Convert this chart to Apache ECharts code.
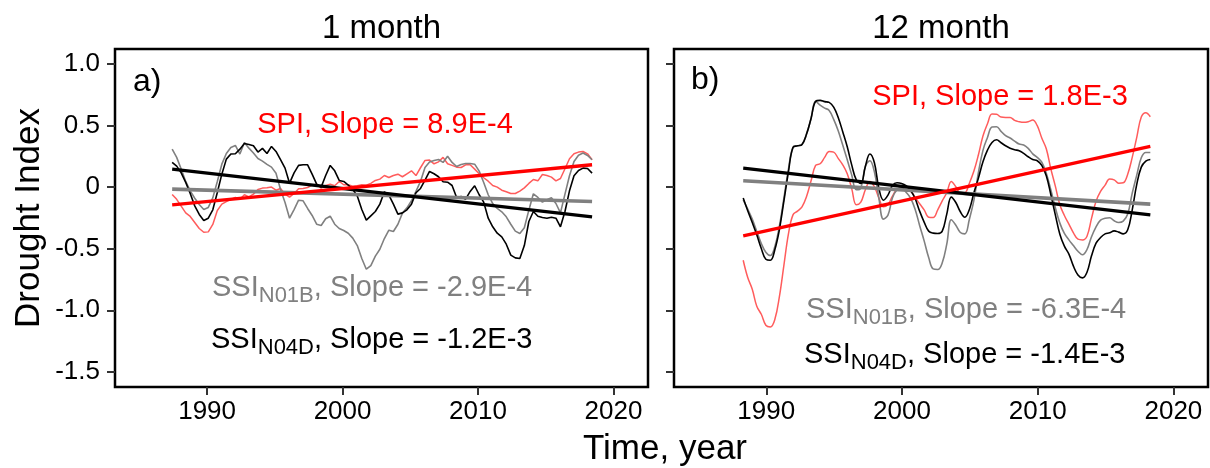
<!DOCTYPE html>
<html><head><meta charset="utf-8">
<script src="https://cdn.jsdelivr.net/npm/echarts@6/dist/echarts.min.js"></script>
<style>html,body{margin:0;padding:0;background:#fff}#c{width:1210px;height:468px}</style>
</head><body><div id="c"></div>
<script>
// ---------- data ----------
const panelTitles = ['1 month', '12 month'];
const panelLetters = ['a)', 'b)'];
const xTicks = [1990, 2000, 2010, 2020];
const yTicks = [-1.5, -1.0, -0.5, 0, 0.5, 1.0];
const yTickLabels = ['-1.5', '-1.0', '-0.5', '0', '0.5', '1.0'];

// sampling of the time axis (decimal years), one sample every 4 months
const start1 = 1987.42;
const start12 = 1988.30;
const stepYears = 1 / 3;

// 1-month panel
const spi1 = [-0.06,-0.10,-0.155,-0.210,-0.239,-0.288,-0.337,-0.367,-0.364,-0.304,
 -0.191,-0.139,-0.118,-0.101,-0.085,-0.099,-0.063,-0.080,-0.058,-0.020,
 -0.009,-0.007,-0.001,-0.026,-0.012,-0.058,-0.082,-0.053,-0.015,-0.012,
 -0.004,0.015,0.023,-0.009,0.012,0.023,0.010,0.045,0.018,0.018,
 0.007,0.010,0.018,0.015,0.029,0.053,0.064,0.093,0.077,0.093,
 0.104,0.083,0.107,0.131,0.093,0.156,0.215,0.218,0.188,0.204,
 0.240,0.188,0.175,0.161,0.158,0.180,0.180,0.145,0.107,0.075,
 0.047,0.012,-0.001,-0.026,-0.039,-0.053,-0.053,-0.034,-0.007,0.029,
 0.061,0.050,0.101,0.093,0.080,0.050,0.069,0.148,0.229,0.269,
 0.283,0.288,0.269,0.221];
const ssiN01B1 = [0.307,0.240,0.145,0.045,-0.031,-0.091,-0.142,-0.183,-0.166,-0.088,
 0.045,0.185,0.272,0.321,0.337,0.267,0.361,0.315,0.275,0.231,
 0.210,0.183,0.161,0.112,-0.020,-0.126,-0.253,-0.183,-0.107,-0.112,
 -0.174,-0.231,-0.302,-0.312,-0.258,-0.237,-0.302,-0.337,-0.353,-0.375,
 -0.415,-0.475,-0.580,-0.667,-0.637,-0.561,-0.505,-0.418,-0.350,-0.361,
 -0.302,-0.212,-0.169,-0.112,-0.036,0.045,0.158,0.202,0.215,0.223,
 0.199,0.250,0.199,0.166,0.183,0.191,0.191,0.185,0.129,0.037,
 -0.063,-0.134,-0.174,-0.201,-0.242,-0.302,-0.358,-0.377,-0.331,-0.188,
 -0.055,-0.085,-0.123,-0.104,-0.088,-0.134,-0.210,-0.058,0.091,0.207,
 0.258,0.275,0.256,0.221];
const ssiN04D1 = [0.199,0.169,0.115,0.037,-0.053,-0.153,-0.223,-0.272,-0.253,-0.185,
 -0.045,0.104,0.226,0.267,0.269,0.307,0.353,0.345,0.334,0.283,
 0.313,0.272,0.329,0.288,0.221,0.153,0.031,0.115,0.175,0.180,
 0.180,0.104,0.023,-0.001,0.093,0.175,0.131,0.053,0.045,0.015,
 -0.018,-0.074,-0.183,-0.269,-0.234,-0.199,-0.139,-0.039,-0.066,-0.139,
 -0.220,-0.210,-0.185,-0.139,-0.047,-0.012,0.056,0.126,0.107,0.083,
 0.042,0.039,0.012,-0.085,-0.077,-0.099,-0.036,0.010,-0.063,-0.123,
 -0.253,-0.323,-0.375,-0.404,-0.464,-0.553,-0.575,-0.580,-0.475,-0.280,
 -0.199,-0.237,-0.248,-0.253,-0.245,-0.253,-0.323,-0.199,-0.031,0.091,
 0.134,0.153,0.150,0.112];

// 12-month panel
const spi12 = [-0.594,-0.734,-0.829,-0.967,-1.032,-1.121,-1.135,-1.073,-0.889,-0.634,
 -0.380,-0.226,-0.196,-0.161,-0.077,0.050,0.175,0.188,0.240,0.288,
 0.283,0.232,0.180,0.107,-0.015,-0.144,-0.123,-0.023,0.045,0.002,
 -0.090,-0.161,-0.142,-0.074,-0.020,-0.012,-0.031,-0.036,-0.085,-0.136,
 -0.185,-0.245,-0.247,-0.185,-0.112,-0.047,0.045,0.002,-0.050,-0.047,
 0.031,0.129,0.261,0.413,0.513,0.591,0.589,0.567,0.564,0.564,
 0.540,0.529,0.524,0.529,0.543,0.497,0.397,0.310,0.148,0.007,
 -0.144,-0.231,-0.301,-0.372,-0.423,-0.429,-0.399,-0.255,-0.115,-0.036,
 0.015,0.064,0.058,0.031,0.034,0.104,0.240,0.402,0.567,0.602,
 0.570];
const ssiN01B12 = [-0.104,-0.180,-0.261,-0.361,-0.458,-0.529,-0.556,-0.483,-0.318,-0.090,
 0.145,0.321,0.334,0.345,0.429,0.556,0.694,0.664,0.640,0.621,
 0.548,0.456,0.340,0.221,0.096,-0.023,-0.009,0.167,0.213,0.123,
 -0.093,-0.261,-0.228,-0.088,-0.023,-0.007,-0.042,-0.090,-0.180,-0.312,
 -0.437,-0.572,-0.664,-0.669,-0.615,-0.464,-0.266,-0.310,-0.369,-0.380,
 -0.261,-0.107,0.118,0.297,0.402,0.486,0.489,0.451,0.416,0.397,
 0.372,0.348,0.340,0.313,0.269,0.240,0.202,0.112,-0.023,-0.169,
 -0.293,-0.377,-0.429,-0.475,-0.521,-0.550,-0.507,-0.404,-0.323,-0.269,
 -0.253,-0.250,-0.274,-0.288,-0.277,-0.220,-0.050,0.096,0.237,0.280,
 0.280];
const ssiN04D12 = [-0.090,-0.193,-0.288,-0.388,-0.499,-0.586,-0.594,-0.507,-0.345,-0.112,
 0.123,0.321,0.334,0.345,0.429,0.556,0.694,0.702,0.692,0.686,
 0.648,0.564,0.448,0.326,0.177,0.058,0.029,0.167,0.267,0.196,
 -0.012,-0.107,-0.066,0.012,0.034,0.029,0.010,-0.028,-0.093,-0.196,
 -0.285,-0.358,-0.374,-0.377,-0.358,-0.220,-0.082,-0.126,-0.201,-0.245,
 -0.182,-0.047,0.072,0.205,0.299,0.361,0.383,0.359,0.334,0.315,
 0.302,0.294,0.272,0.245,0.223,0.213,0.175,0.091,-0.061,-0.226,
 -0.383,-0.480,-0.545,-0.642,-0.713,-0.737,-0.691,-0.558,-0.456,-0.410,
 -0.380,-0.372,-0.356,-0.366,-0.380,-0.347,-0.185,0.021,0.161,0.210,
 0.223];

// linear trend lines: value at first and last sample
const trendSPI1 = [-0.145, 0.180];
const trendN01B1 = [-0.017, -0.118];
const trendN04D1 = [0.145, -0.242];
const trendSPI12 = [-0.396, 0.329];
const trendN01B12 = [0.050, -0.139];
const trendN04D12 = [0.153, -0.226];

const slopeLabels1 = ['8.9E-4', '-2.9E-4', '-1.2E-3'];
const slopeLabels12 = ['1.8E-3', '-6.3E-4', '-1.4E-3'];

// ---------- chart ----------
const FONT = '"Liberation Sans", Arial, Helvetica, sans-serif';
const chart = echarts.init(document.getElementById('c'), null, {renderer: 'canvas'});

function toPairs(vals, start) { return vals.map((v, i) => [start + i * stepYears, v]); }
function trendPairs(tr, vals, start) { return [[start, tr[0]], [start + (vals.length - 1) * stepYears, tr[1]]]; }

function dataSeries(vals, start, idx, color, width, smooth) {
  return {type: 'line', xAxisIndex: idx, yAxisIndex: idx, data: toPairs(vals, start),
    showSymbol: false, smooth: smooth, silent: true, animation: false,
    lineStyle: {color: color, width: width}, z: 2};
}
function trendSeries(tr, vals, start, idx, color, width) {
  return {type: 'line', xAxisIndex: idx, yAxisIndex: idx, data: trendPairs(tr, vals, start),
    showSymbol: false, silent: true, animation: false,
    lineStyle: {color: color, width: width}, z: 3};
}

const SPI_DATA = '#ff5c5c', GRAY = '#808080', BLACK = '#000000', RED = '#ff0000';
const TICK_FONT = 26;

function xAxisCfg(idx) {
  return {type: 'value', gridIndex: idx, min: 1983.2, max: 2022.55,
    axisLine: {show: false, onZero: false}, splitLine: {show: false},
    axisTick: {show: true, length: 8, customValues: xTicks, lineStyle: {color: '#333', width: 2}},
    axisLabel: {show: true, customValues: xTicks, fontSize: TICK_FONT, color: '#000', fontFamily: FONT, margin: 12,
      formatter: function (v) { return String(Math.round(v)); }}};
}
function yAxisCfg(idx, showLabels) {
  return {type: 'value', gridIndex: idx, min: -1.622, max: 1.119,
    axisLine: {show: false, onZero: false}, splitLine: {show: false},
    axisTick: {show: true, length: 8, customValues: yTicks, lineStyle: {color: '#333', width: 2}},
    axisLabel: {show: showLabels, customValues: yTicks, fontSize: TICK_FONT, color: '#000', fontFamily: FONT, margin: 15,
      formatter: function (v) {
        for (let i = 0; i < yTicks.length; i++) if (Math.abs(yTicks[i] - v) < 1e-6) return yTickLabels[i];
        return '';
      }}};
}

// text helpers
const measureCtx = document.createElement('canvas').getContext('2d');
function textWidth(txt, size) {
  measureCtx.font = size + 'px ' + FONT;
  return measureCtx.measureText(txt).width;
}
function plainText(txt, x, y, size, color, align, rotation) {
  const el = {type: 'text', x: x, y: y, silent: true,
    style: {text: txt, fill: color, fontSize: size, fontFamily: FONT,
      align: align, verticalAlign: 'middle', textAlign: align, textVerticalAlign: 'middle'}};
  if (rotation) el.rotation = rotation;
  return el;
}
const MAIN = 29, SUB = 22, SUBDROP = 8;
function ssiText(x, y, sub, slope, color) {
  const a = 'SSI', c = ', Slope = ' + slope;
  const w1 = textWidth(a, MAIN), w2 = textWidth(sub, SUB);
  return [
    plainText(a, x, y, MAIN, color, 'left'),
    plainText(sub, x + w1, y + SUBDROP, SUB, color, 'left'),
    plainText(c, x + w1 + w2, y, MAIN, color, 'left')
  ];
}

const option = {
  backgroundColor: '#ffffff',
  animation: false,
  grid: [
    {left: 115, top: 49, width: 533, height: 338, show: true, borderColor: '#000', borderWidth: 2.5, backgroundColor: 'rgba(0,0,0,0)'},
    {left: 674, top: 49, width: 534, height: 338, show: true, borderColor: '#000', borderWidth: 2.5, backgroundColor: 'rgba(0,0,0,0)'}
  ],
  xAxis: [xAxisCfg(0), xAxisCfg(1)],
  yAxis: [yAxisCfg(0, true), yAxisCfg(1, false)],
  series: [
    dataSeries(spi1, start1, 0, SPI_DATA, 1.5, false),
    dataSeries(ssiN01B1, start1, 0, GRAY, 1.6, false),
    dataSeries(ssiN04D1, start1, 0, BLACK, 1.6, false),
    trendSeries(trendN01B1, ssiN01B1, start1, 0, GRAY, 3.6),
    trendSeries(trendN04D1, ssiN04D1, start1, 0, BLACK, 3.4),
    trendSeries(trendSPI1, spi1, start1, 0, RED, 3.4),
    dataSeries(spi12, start12, 1, SPI_DATA, 1.5, 0.4),
    dataSeries(ssiN01B12, start12, 1, GRAY, 1.6, 0.4),
    dataSeries(ssiN04D12, start12, 1, BLACK, 1.6, 0.4),
    trendSeries(trendN01B12, ssiN01B12, start12, 1, GRAY, 3.6),
    trendSeries(trendN04D12, ssiN04D12, start12, 1, BLACK, 3.4),
    trendSeries(trendSPI12, spi12, start12, 1, RED, 3.4)
  ],
  graphic: [
    plainText(panelTitles[0], 381.5, 29, 33, '#000', 'center'),
    plainText(panelTitles[1], 941, 29, 33, '#000', 'center'),
    plainText(panelLetters[0], 133, 82, 32, '#000', 'left'),
    plainText(panelLetters[1], 691, 80, 32, '#000', 'left'),
    plainText('Drought Index', 29, 218, 35, '#000', 'center', Math.PI / 2),
    plainText('Time, year', 665, 449, 35, '#000', 'center'),
    plainText('SPI, Slope = ' + slopeLabels1[0], 385, 125, 29, RED, 'center'),
    plainText('SPI, Slope = ' + slopeLabels12[0], 1000, 97, 29, RED, 'center')
  ].concat(
    ssiText(212, 288, 'N01B', slopeLabels1[1], GRAY),
    ssiText(211, 340, 'N04D', slopeLabels1[2], BLACK),
    ssiText(806, 310, 'N01B', slopeLabels12[1], GRAY),
    ssiText(804, 355, 'N04D', slopeLabels12[2], BLACK)
  )
};
chart.setOption(option);
</script>
</body></html>
